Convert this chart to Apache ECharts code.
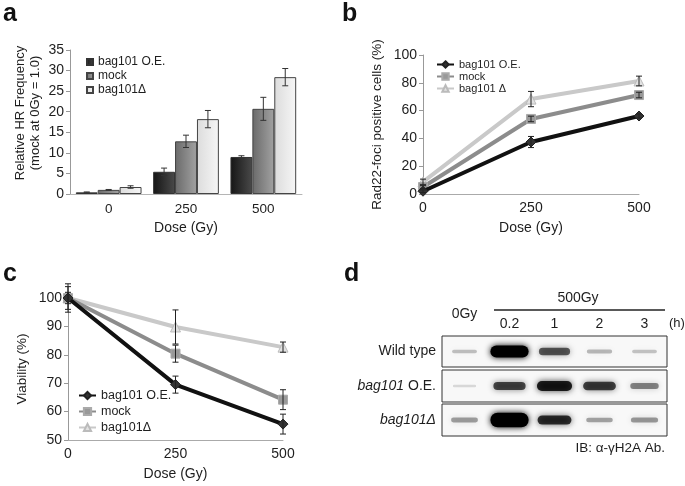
<!DOCTYPE html>
<html>
<head>
<meta charset="utf-8">
<script src="https://cdn.jsdelivr.net/npm/echarts@6/dist/echarts.min.js"></script>
<style>
  html, body { margin: 0; padding: 0; background: #fff; }
  #chart { width: 685px; height: 486px; }
</style>
</head>
<body>
<div id="chart"></div>
<script>
// doses (Gy)
const doseLabels = ['0', '250', '500'];
const doseValues = [0, 250, 500];

// a: relative HR frequency
const hrOE = [0.4, 5.4, 9.0];
const hrMock = [1.0, 12.8, 20.7];
const hrDel = [1.7, 18.2, 28.4];
const hrOEErr = [0.1, 0.9, 0.3];
const hrMockErr = [0.1, 1.5, 2.8];
const hrDelErr = [0.3, 2.1, 2.1];

// b: Rad22-foci positive cells (%)
const fociOE = [2, 37.4, 56.1];
const fociMock = [5, 54, 71.2];
const fociDel = [8.7, 68.3, 81.3];
const fociOEErr = [1, 4, 1.5];
const fociMockErr = [1, 2, 2];
const fociDelErr = [2, 5.5, 3.5];

// c: viability (%)
const viaOE = [100, 69.5, 55.6];
const viaMock = [100, 80.4, 64.2];
const viaDel = [100, 89.8, 82.7];
const viaOEErr = [5, 3, 3.5];
const viaMockErr = [4, 3, 3.5];
const viaDelErr = [2, 6, 1.8];

// d: western blot, band intensity per lane
const lanes = ['0Gy', '0.2', '1', '2', '3'];
const blotRows = ['Wild type', 'bag101 O.E.', 'bag101Δ'];
const bandWT = [0.15, 1.0, 0.55, 0.18, 0.14];
const bandOE = [0.05, 0.62, 0.8, 0.65, 0.38];
const bandDel = [0.28, 1.25, 0.72, 0.26, 0.3];

const FONT = '"Liberation Sans", Arial, Helvetica, sans-serif';
const TXT = '#1e1e1e';

const chart = echarts.init(document.getElementById('chart'));

function pts(xs, ys) { return xs.map((x, i) => [x, ys[i]]); }
function errPts(xs, ys, es) { return xs.map((x, i) => [x, ys[i], es[i]]); }

// error bar for grouped bars (k = position in group)
function barErr(k) {
  return function (params, api) {
    const band = api.size([1, 0])[0];
    const bw = band * 0.85 / 3;
    const x = api.coord([api.value(0), 0])[0] + (k - 1) * bw;
    const top = api.coord([api.value(0), api.value(1) + api.value(2)])[1];
    const bot = api.coord([api.value(0), api.value(1) - api.value(2)])[1];
    const st = { stroke: '#333', lineWidth: 1 };
    return { type: 'group', children: [
      { type: 'line', shape: { x1: x, y1: top, x2: x, y2: bot }, style: st },
      { type: 'line', shape: { x1: x - 3, y1: top, x2: x + 3, y2: top }, style: st },
      { type: 'line', shape: { x1: x - 3, y1: bot, x2: x + 3, y2: bot }, style: st }
    ]};
  };
}

function lineErr(params, api) {
  const x = api.coord([api.value(0), api.value(1)])[0];
  const top = api.coord([api.value(0), api.value(1) + api.value(2)])[1];
  const bot = api.coord([api.value(0), api.value(1) - api.value(2)])[1];
  const st = { stroke: '#222', lineWidth: 1 };
  return { type: 'group', children: [
    { type: 'line', shape: { x1: x, y1: top, x2: x, y2: bot }, style: st },
    { type: 'line', shape: { x1: x - 3, y1: top, x2: x + 3, y2: top }, style: st },
    { type: 'line', shape: { x1: x - 3, y1: bot, x2: x + 3, y2: bot }, style: st }
  ]};
}

function blotBand(params, api) {
  const p = api.coord([api.value(0), 0]);
  const lane = api.size([1, 0])[0];
  const I = api.value(2);
  const w = lane * (0.5 + 0.35 * Math.min(I, 1));
  const h = 2 + 10 * I;
  const a = Math.min(1, 0.08 + I * 0.95);
  return {
    type: 'rect',
    shape: { x: p[0] - w / 2, y: p[1] - h / 2, width: w, height: h, r: h / 2 },
    style: { fill: 'rgba(0,0,0,' + a + ')', shadowBlur: 6, shadowColor: 'rgba(0,0,0,' + a + ')' }
  };
}

function grad(c1, c2) {
  return new echarts.graphic.LinearGradient(0, 0, 1, 0, [
    { offset: 0, color: c1 }, { offset: 1, color: c2 }
  ]);
}

const axisText = { color: TXT, fontSize: 14, fontFamily: FONT };
const grayLine = { lineStyle: { color: '#aaa', width: 1 } };

function valueY(idx, min, max, interval, name, gap, fs, extra) {
  return Object.assign({
    gridIndex: idx, type: 'value', min: min, max: max, interval: interval,
    axisLine: { show: true, lineStyle: { color: '#999' } },
    axisTick: { show: true, length: 4, lineStyle: { color: '#999' } },
    splitLine: { show: false },
    axisLabel: Object.assign({ margin: 6 }, axisText),
    name: name, nameLocation: 'middle', nameGap: gap,
    nameTextStyle: { color: TXT, fontSize: fs, fontFamily: FONT, lineHeight: 15 }
  }, extra || {});
}

function doseX(idx, gap) {
  return {
    gridIndex: idx, type: 'value', min: 0, max: 500, interval: 250,
    axisLine: grayLine, axisTick: { show: false }, splitLine: { show: false },
    axisLabel: Object.assign({ margin: 7 }, axisText),
    name: 'Dose (Gy)', nameLocation: 'middle', nameGap: gap,
    nameTextStyle: { color: TXT, fontSize: 14, fontFamily: FONT }
  };
}

const lineStyles = {
  OE: { color: '#111', symbol: 'diamond', symbolSize: 10, item: { color: '#333', borderColor: '#222', borderWidth: 1 } },
  Mock: { color: '#8c8c8c', symbol: 'rect', symbolSize: 9, item: { color: '#999', borderColor: '#aaa', borderWidth: 1 } },
  Del: { color: '#c9c9c9', symbol: 'triangle', symbolSize: 10, item: { color: '#e2e2e2', borderColor: '#bbb', borderWidth: 1 } }
};

function lineSeries(name, idx, key, ys) {
  const s = lineStyles[key];
  return {
    name: name, type: 'line', xAxisIndex: idx, yAxisIndex: idx,
    data: pts(doseValues, ys), symbol: s.symbol, symbolSize: s.symbolSize,
    showAllSymbol: true, clip: false,
    lineStyle: { color: s.color, width: 4 },
    itemStyle: Object.assign({}, s.item),
    z: key === 'OE' ? 5 : key === 'Mock' ? 4 : 3
  };
}

function errSeries(idx, ys, es) {
  return { type: 'custom', xAxisIndex: idx, yAxisIndex: idx, renderItem: lineErr,
    data: errPts(doseValues, ys, es), z: 10, silent: true };
}

const blotData = [bandWT, bandOE, bandDel];
const rowTops = [336, 370, 404];
const rowHeights = [31, 32, 32];

const option = {
  animation: false,
  textStyle: { fontFamily: FONT },
  grid: [
    { left: 70, right: 383, top: 50, bottom: 292 },
    { left: 423, right: 46, top: 55, bottom: 292 },
    { left: 68, right: 402, top: 298, bottom: 46 }
  ].concat(rowTops.map((t, i) => ({
    left: 442, width: 225, top: t, height: rowHeights[i], show: true,
    borderColor: '#333', borderWidth: 1, backgroundColor: '#f8f8f8'
  }))),
  xAxis: [
    {
      gridIndex: 0, type: 'category', data: doseLabels,
      axisLine: { lineStyle: { color: '#b5b5b5' } }, axisTick: { show: false },
      axisLabel: Object.assign({ margin: 8 }, axisText, { fontSize: 13.5 }),
      name: 'Dose (Gy)', nameLocation: 'middle', nameGap: 27,
      nameTextStyle: { color: TXT, fontSize: 14, fontFamily: FONT }
    },
    doseX(1, 27),
    doseX(2, 27)
  ].concat(blotRows.map((r, i) => ({
    gridIndex: 3 + i, type: 'category', data: lanes, position: 'top',
    axisLine: { show: false }, axisTick: { show: false },
    axisLabel: i === 0 ? {
      show: true, interval: 0, margin: 5, color: TXT, fontSize: 14, fontFamily: FONT,
      formatter: v => v === '0Gy' ? '{g|' + v + '}' : v,
      rich: { g: { color: TXT, fontSize: 14, fontFamily: FONT, padding: [0, 0, 10, 0] } }
    } : { show: false }
  }))),
  yAxis: [
    valueY(0, 0, 35, 5, 'Relative HR Frequency\n(mock at 0Gy = 1.0)', 27, 13,
      { nameTextStyle: { color: TXT, fontSize: 13, fontFamily: FONT, lineHeight: 15, padding: [0, 0, 0, 18] } }),
    valueY(1, 0, 100, 20, 'Rad22-foci positive cells (%)', 38, 13.5),
    valueY(2, 50, 100, 10, 'Viability (%)', 38, 13.5)
  ].concat(blotRows.map((r, i) => ({
    gridIndex: 3 + i, type: 'category', data: [r],
    axisLine: { show: false }, axisTick: { show: false },
    axisLabel: {
      margin: 6, color: TXT, fontSize: 14, fontFamily: FONT,
      formatter: v => v === 'Wild type' ? v : v.replace(/^(bag101Δ?)/, '{i|$1}'),
      rich: { i: { color: TXT, fontSize: 14, fontFamily: FONT, fontStyle: 'italic' } }
    }
  }))),
  legend: [
    {
      left: 81, top: 51, orient: 'vertical', itemWidth: 6, itemHeight: 6, itemGap: 2,
      icon: 'rect', selectedMode: false,
      data: ['a:bag101 O.E.', 'a:mock', 'a:bag101Δ'],
      formatter: n => n.split(':')[1],
      textStyle: { color: TXT, fontSize: 12, fontFamily: FONT }
    },
    {
      left: 431, top: 54, orient: 'vertical', itemWidth: 17, itemHeight: 8, itemGap: 1,
      selectedMode: false,
      data: ['b:bag101 O.E.', 'b:mock', 'b:bag101 Δ'],
      formatter: n => n.split(':')[1],
      textStyle: { color: TXT, fontSize: 11, fontFamily: FONT }
    },
    {
      left: 73, top: 384, orient: 'vertical', itemWidth: 17, itemHeight: 9, itemGap: 3,
      selectedMode: false,
      data: ['c:bag101 O.E.', 'c:mock', 'c:bag101Δ'],
      formatter: n => n.split(':')[1],
      textStyle: { color: TXT, fontSize: 12.5, fontFamily: FONT }
    }
  ],
  series: [
    { name: 'a:bag101 O.E.', type: 'bar', xAxisIndex: 0, yAxisIndex: 0, data: hrOE,
      barGap: '0%', barCategoryGap: '15%',
      itemStyle: { color: grad('#151515', '#4a4a4a'), borderColor: '#333', borderWidth: 1 } },
    { name: 'a:mock', type: 'bar', xAxisIndex: 0, yAxisIndex: 0, data: hrMock,
      barGap: '0%', barCategoryGap: '15%',
      itemStyle: { color: grad('#6a6a6a', '#a2a2a2'), borderColor: '#444', borderWidth: 1 } },
    { name: 'a:bag101Δ', type: 'bar', xAxisIndex: 0, yAxisIndex: 0, data: hrDel,
      barGap: '0%', barCategoryGap: '15%',
      itemStyle: { color: grad('#dcdcdc', '#f6f6f6'), borderColor: '#444', borderWidth: 1 } },
    { type: 'custom', xAxisIndex: 0, yAxisIndex: 0, renderItem: barErr(0), z: 10,
      data: errPts([0, 1, 2], hrOE, hrOEErr) },
    { type: 'custom', xAxisIndex: 0, yAxisIndex: 0, renderItem: barErr(1), z: 10,
      data: errPts([0, 1, 2], hrMock, hrMockErr) },
    { type: 'custom', xAxisIndex: 0, yAxisIndex: 0, renderItem: barErr(2), z: 10,
      data: errPts([0, 1, 2], hrDel, hrDelErr) },

    lineSeries('b:bag101 Δ', 1, 'Del', fociDel),
    lineSeries('b:mock', 1, 'Mock', fociMock),
    lineSeries('b:bag101 O.E.', 1, 'OE', fociOE),
    errSeries(1, fociOE, fociOEErr),
    errSeries(1, fociMock, fociMockErr),
    errSeries(1, fociDel, fociDelErr),

    lineSeries('c:bag101Δ', 2, 'Del', viaDel),
    lineSeries('c:mock', 2, 'Mock', viaMock),
    lineSeries('c:bag101 O.E.', 2, 'OE', viaOE),
    errSeries(2, viaOE, viaOEErr),
    errSeries(2, viaMock, viaMockErr),
    errSeries(2, viaDel, viaDelErr)
  ].concat(blotData.map((row, i) => ({
    type: 'custom', xAxisIndex: 3 + i, yAxisIndex: 3 + i, renderItem: blotBand,
    data: row.map((v, j) => [j, 0, v]), clip: true
  }))),
  graphic: [
    { type: 'text', left: 3, top: 2, style: { text: 'a', fontSize: 25, fontWeight: 'bold', fontFamily: FONT, fill: '#111' } },
    { type: 'text', left: 342, top: 2, style: { text: 'b', fontSize: 25, fontWeight: 'bold', fontFamily: FONT, fill: '#111' } },
    { type: 'text', left: 3, top: 262, style: { text: 'c', fontSize: 25, fontWeight: 'bold', fontFamily: FONT, fill: '#111' } },
    { type: 'text', left: 344, top: 262, style: { text: 'd', fontSize: 25, fontWeight: 'bold', fontFamily: FONT, fill: '#111' } },
    { type: 'text', x: 578, y: 298, style: { text: '500Gy', fontSize: 14, fontFamily: FONT, fill: TXT, align: 'center', verticalAlign: 'middle' } },
    { type: 'line', shape: { x1: 494, y1: 310, x2: 665, y2: 310 }, style: { stroke: '#222', lineWidth: 1.5 } },
    { type: 'text', x: 669, y: 323, style: { text: '(h)', fontSize: 13, fontFamily: FONT, fill: TXT, align: 'left', verticalAlign: 'middle' } },
    { type: 'text', x: 665, y: 448, style: { text: 'IB: α-γH2A Ab.', fontSize: 13.5, fontFamily: FONT, fill: TXT, align: 'right', verticalAlign: 'middle' } }
  ]
};

chart.setOption(option);
</script>
</body>
</html>
